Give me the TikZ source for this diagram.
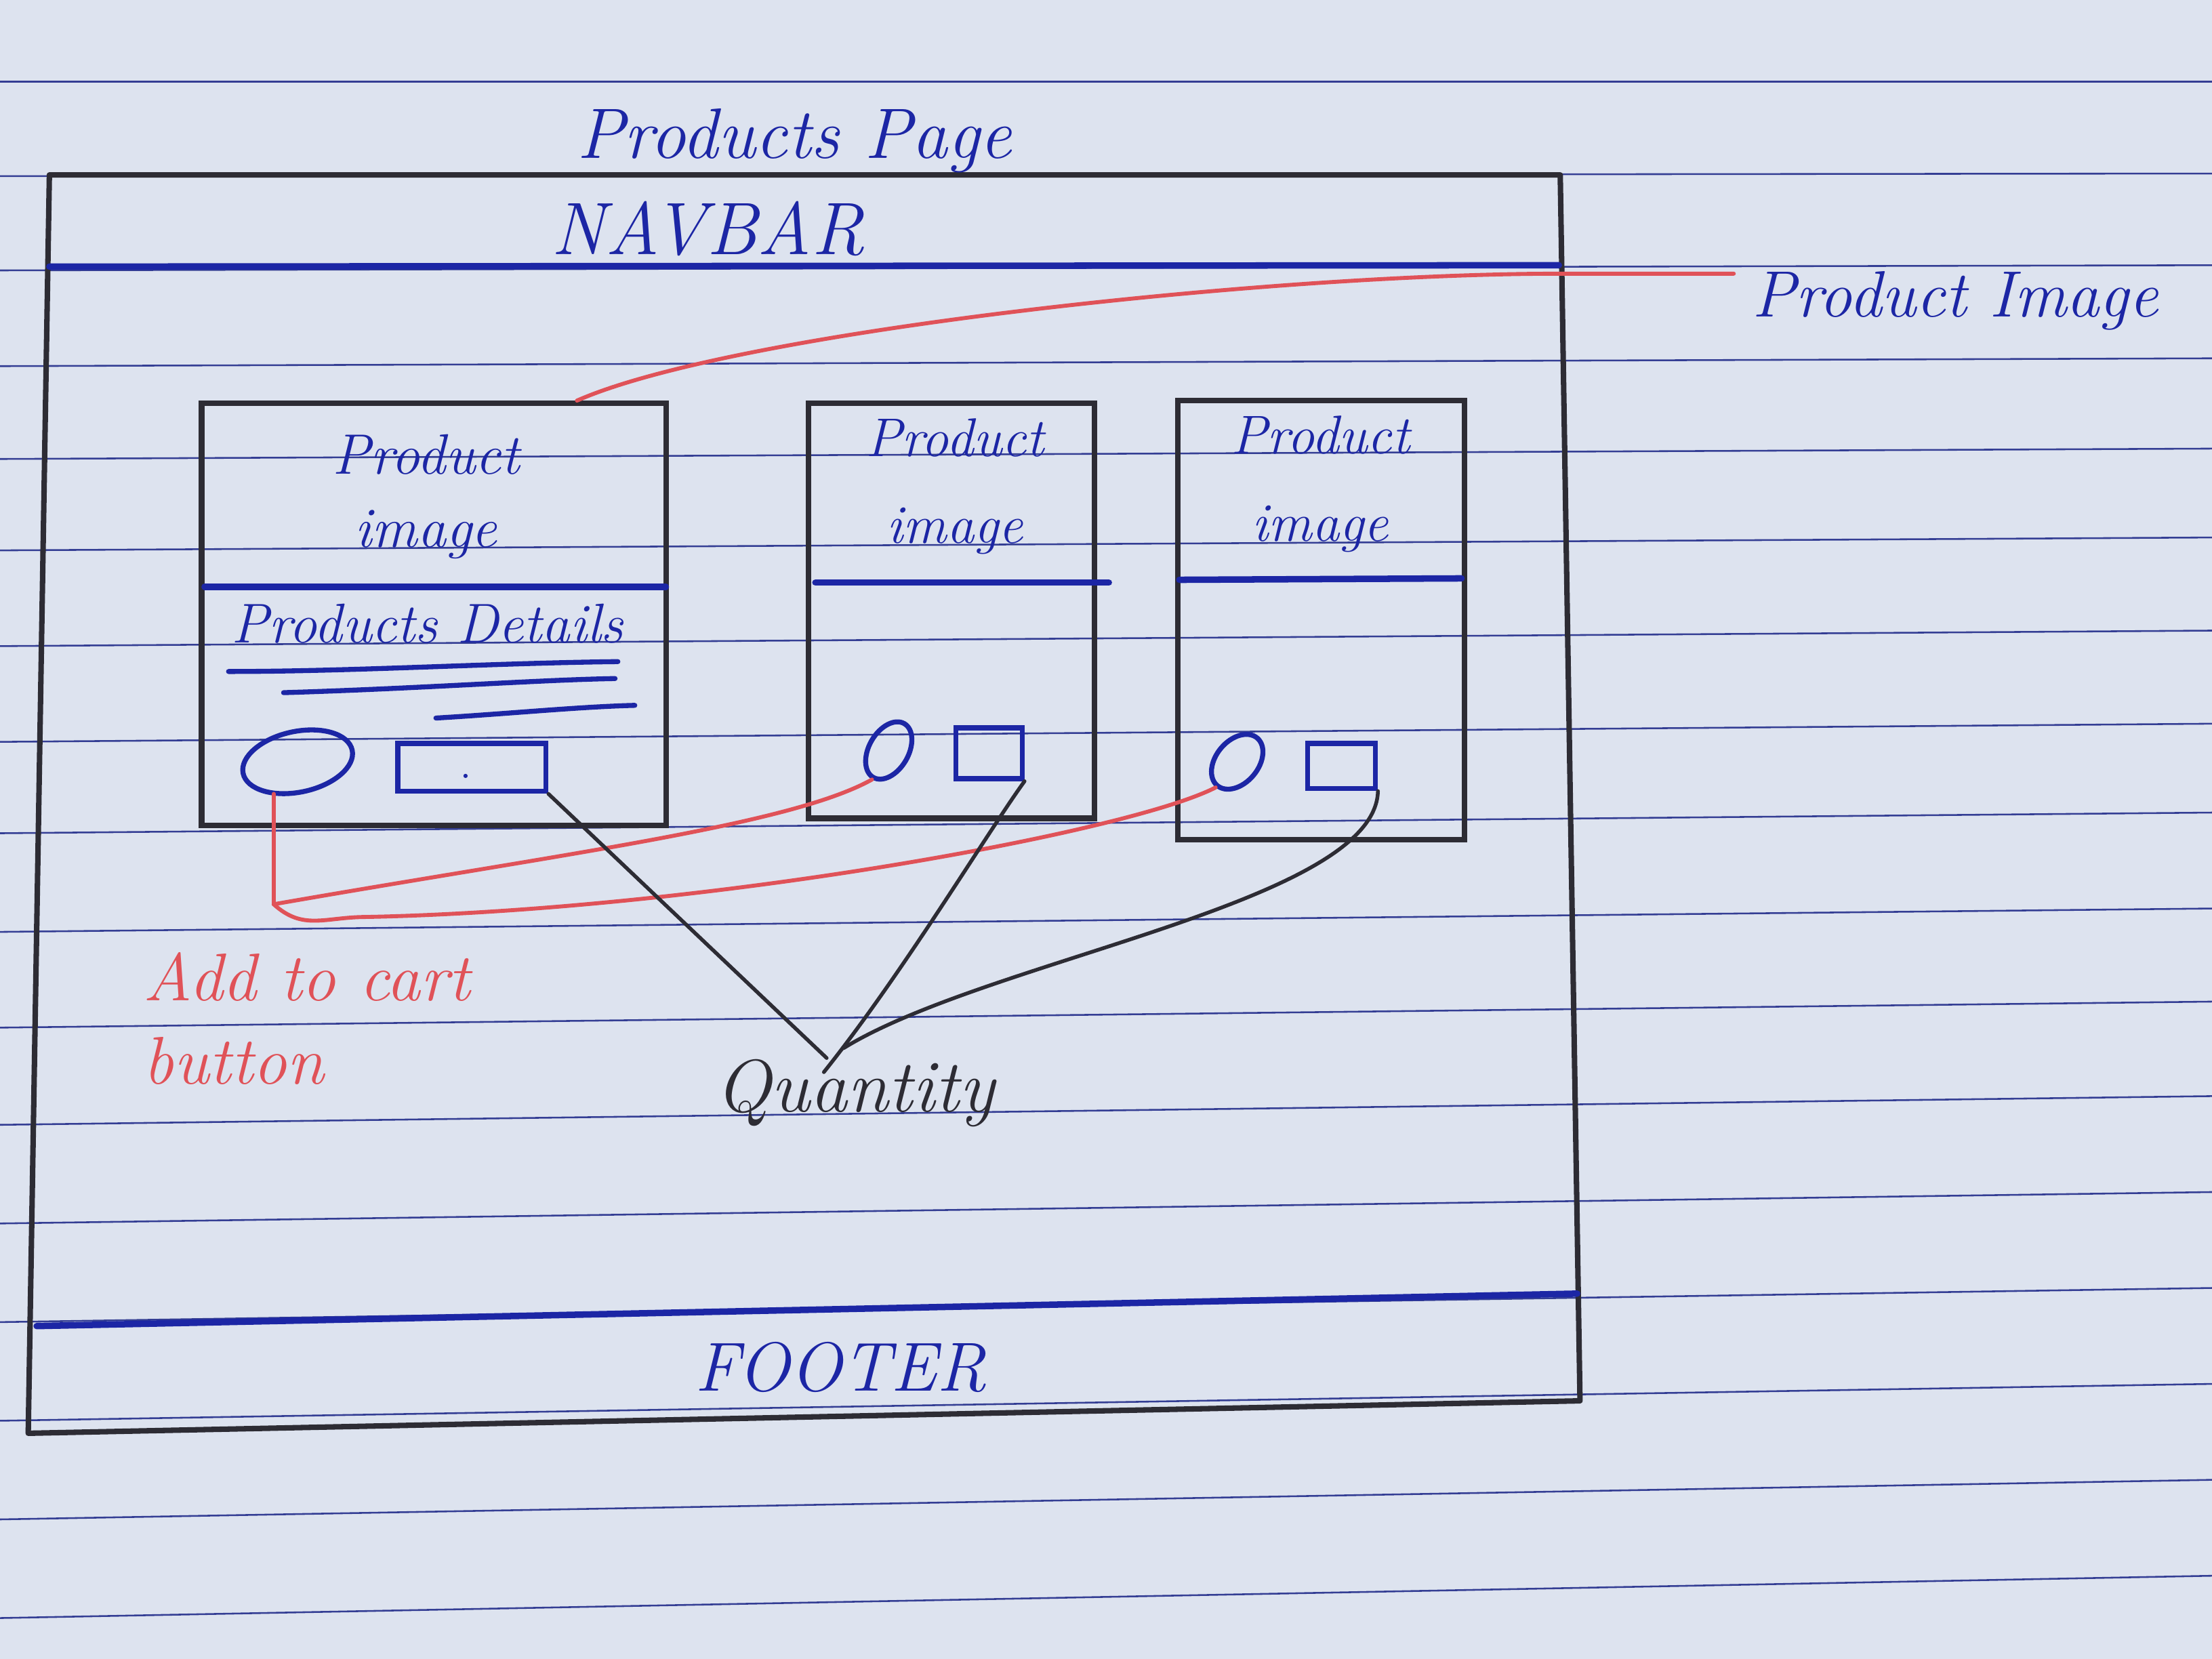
\documentclass[tikz,border=0pt]{standalone}
\usetikzlibrary{shapes.geometric}
\definecolor{paper}{RGB}{221,227,239}
\definecolor{rule}{RGB}{52,62,148}
\definecolor{bluepen}{RGB}{28,38,165}
\definecolor{blackpen}{RGB}{45,44,52}
\definecolor{redpen}{RGB}{224,82,88}
\begin{document}
\begin{tikzpicture}[x=0.01cm,y=-0.01cm,
  ruled/.style={rule, line width=0.35pt},
  frame/.style={blackpen, line width=1.1pt, line join=round, line cap=round},
  card/.style={draw=blackpen, line width=1.1pt, rectangle, inner sep=0pt},
  divider/.style={bluepen, line width=1.3pt, line cap=round},
  bluestroke/.style={bluepen, line width=1pt, line cap=round},
  btnshape/.style={draw=bluepen, line width=1pt, ellipse, inner sep=0pt},
  qtybox/.style={draw=bluepen, line width=1pt, rectangle, inner sep=0pt},
  redlink/.style={redpen, line width=0.8pt, line cap=round},
  blacklink/.style={blackpen, line width=0.75pt, line cap=round},
  bluetext/.style={text=bluepen, inner sep=0pt},
  redtext/.style={text=redpen, inner sep=0pt},
  blacktext/.style={text=blackpen, inner sep=0pt}
]
\useasboundingbox (0,0) rectangle (1568,1176);
\fill[paper] (0,0) rectangle (1568,1176);
% ruled paper
\foreach \yr in {58,123,188,254,318,381,447,513,576,644,710,777,845,913,981,1049,1117}{
  \pgfmathsetmacro\dd{(\yr-58)/1060*30}
  \draw[ruled] (0,\yr+\dd) -- (1568,\yr);
}
% outer page frame
\draw[frame] (35,124) -- (1106,124) -- (1120,993) -- (20,1016) -- cycle;
\draw[divider] (35,189) -- (1105,188);
\draw[divider] (26,940) -- (1118,917);
% texts of the page
\node[bluetext, font=\fontsize{14.4}{17}\selectfont\itshape] (title) at (563,100) {Products Page};
\node[bluetext, font=\fontsize{15}{17}\selectfont\itshape] (navbar) at (502,162) {NAVBAR};
\node[bluetext, font=\fontsize{14}{17}\selectfont\itshape] (footer) at (596,969) {FOOTER};
% cards
\node[card, minimum width=3.29cm, minimum height=2.99cm] (card1) at (307.5,435.5) {};
\node[card, minimum width=2.03cm, minimum height=2.94cm] (card2) at (674.5,433) {};
\node[card, minimum width=2.03cm, minimum height=3.11cm] (card3) at (936.5,439.5) {};
\draw[divider] (145,416) -- (472,416);
\draw[divider] (578,413) -- (786,413);
\draw[divider] (836,411) -- (1036,410);
\node[bluetext, align=center, font=\fontsize{11.5}{14.8}\selectfont\itshape] (img1) at (302,352) {Product\\image};
\node[bluetext, align=center, font=\fontsize{11}{17.5}\selectfont\itshape] (img2) at (677,345) {Product\\image};
\node[bluetext, align=center, font=\fontsize{11}{17.6}\selectfont\itshape] (img3) at (936,343) {Product\\image};
\node[bluetext, font=\fontsize{11.3}{14}\selectfont\itshape] (details) at (303,442) {Products Details};
\draw[bluestroke] (162,476) .. controls (250,476) and (350,470) .. (438,469);
\draw[bluestroke] (201,491) .. controls (300,488) and (380,482) .. (436,481);
\draw[bluestroke] (309,509) .. controls (360,506) and (410,501) .. (450,500);
% buttons and quantity boxes
\node[btnshape, minimum width=0.79cm, minimum height=0.43cm, rotate=12] (btn1) at (211,540) {};
\node[btnshape, minimum width=0.28cm, minimum height=0.44cm, rotate=-30] (btn2) at (630,532) {};
\node[btnshape, minimum width=0.30cm, minimum height=0.44cm, rotate=-40] (btn3) at (877,540) {};
\node[qtybox, minimum width=1.05cm, minimum height=0.34cm] (qb1) at (334.5,544) {};
\fill[bluepen] (330,550) circle (1.5);
\node[qtybox, minimum width=0.47cm, minimum height=0.36cm] (qb2) at (701,534) {};
\node[qtybox, minimum width=0.48cm, minimum height=0.32cm] (qb3) at (951,543) {};
% annotation labels
\node[bluetext, font=\fontsize{13.2}{16}\selectfont\itshape] (pimg) at (1386,213) {Product Image};
\node[redtext, anchor=west, align=left, font=\fontsize{13.6}{16.8}\selectfont\itshape] (addcart) at (101,722) {Add to cart\\button};
\node[blacktext, font=\fontsize{15}{17}\selectfont\itshape] (qty) at (606,775) {Quantity};
% connector anchors
\coordinate (x409) at (409,0);
\coordinate (pimgend) at (1229,194);
\coordinate (rc) at (194,641);
\coordinate (qtopA) at (586,750);
\coordinate (qtopB) at (584,760);
\coordinate (qtopC) at (598,743);
% red connectors
\draw[redlink] (card1.north -| x409) .. controls (520,235) and (900,194) .. (1106,194) -- (pimgend);
\draw[redlink] (btn1.south -| rc) -- (rc);
\draw[redlink] (rc) .. controls (400,605) and (560,585) .. (btn2.south);
\draw[redlink] (rc) .. controls (215,660) and (230,650) .. (260,650) .. controls (500,645) and (800,590) .. (btn3.south);
% black connectors
\draw[blacklink] (qb1.south east) -- (qtopA);
\draw[blacklink] (qb2.south east) .. controls (700,590) and (640,690) .. (qtopB);
\draw[blacklink] (qb3.south east) .. controls (975,640) and (700,680) .. (qtopC);
\end{tikzpicture}
\end{document}
